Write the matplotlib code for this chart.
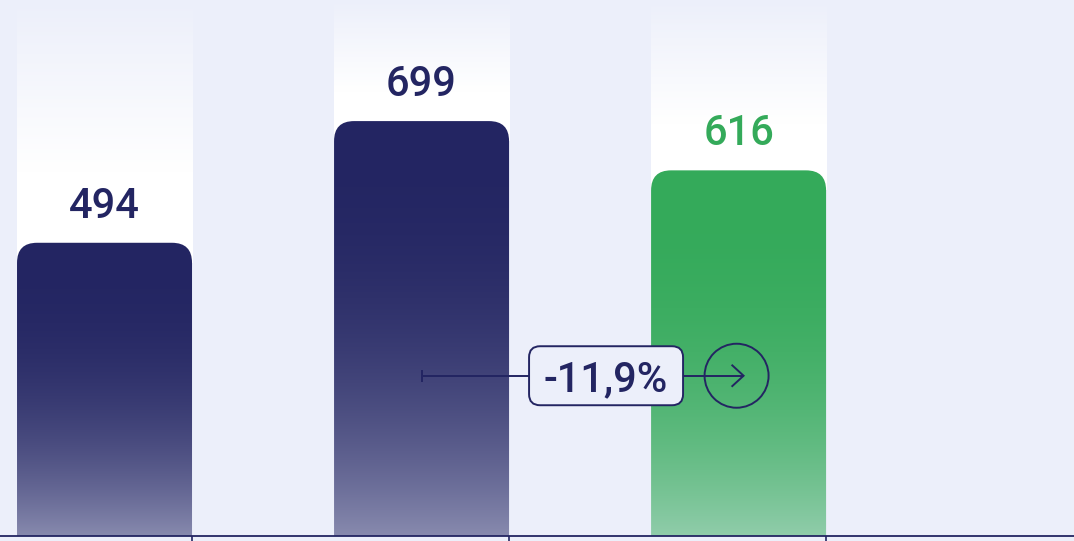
import numpy as np
import matplotlib
matplotlib.use('Agg')
import matplotlib.pyplot as plt
from matplotlib.patches import FancyBboxPatch, Circle
from matplotlib.lines import Line2D
from matplotlib.transforms import IdentityTransform
from matplotlib.colors import to_rgb

# ---- data ----
positions = [0, 1, 2]
values = [494, 699, 616]
value_labels = ['494', '699', '616']
change_label = '-11,9%'

# ---- style ----
BG = '#ECEFFA'
NAVY = '#232562'
GREEN = '#34AA5A'
bar_colors = [NAVY, NAVY, GREEN]
W = 0.552
FONT = ['Roboto', 'DejaVu Sans']
WEIGHT = 'medium'

fig = plt.figure(figsize=(10.74, 5.41), dpi=100)
fig.patch.set_facecolor(BG)
ax = fig.add_axes([0, 5 / 541, 1, 536 / 541])
ax.set_facecolor(BG)
XL = (-0.3297, 3.058)
YTOP = 903
ax.set_xlim(*XL)
ax.set_ylim(0, YTOP)
for s in ['top', 'left', 'right']:
    ax.spines[s].set_visible(False)
ax.spines['bottom'].set_color(NAVY)
ax.spines['bottom'].set_linewidth(1.3)
ax.set_yticks([])
ax.set_xticks([p + W / 2 for p in positions])
ax.set_xticklabels([])
ax.tick_params(axis='x', direction='out', length=3.8, width=1.2, color=NAVY)

bg = np.array(to_rgb(BG))
white = np.ones(3)

# rounding in data units
px_x = 1074 / (XL[1] - XL[0])
px_y = 536 / YTOP
r_px = 20
rx = r_px / px_x
ry = r_px / px_y

N = 300
for p, v, c, lab in zip(positions, values, bar_colors, value_labels):
    x0, x1 = p - W / 2, p + W / 2
    # background column: bg at top -> white
    t = np.linspace(0, 1, N)
    m = np.clip(t / 0.65, 0, 1)
    col = bg[None, :] * (1 - m[:, None]) + white[None, :] * m[:, None]
    ax.imshow(col[:, None, :], extent=(x0, x1, v - ry, YTOP), origin='upper',
              aspect='auto', interpolation='bilinear', zorder=1)
    # bar with rounded top
    patch = FancyBboxPatch((x0, -80), W, v + 80,
                           boxstyle=f"round,pad=0,rounding_size={rx}",
                           mutation_aspect=ry / rx, fc='none', ec='none', zorder=2)
    ax.add_patch(patch)
    f = np.linspace(0, 1, N)
    a = 1 - 0.5 * f ** 2.5
    cc = np.array(to_rgb(c))
    grad = cc[None, :] * a[:, None] + bg[None, :] * (1 - a[:, None])
    im = ax.imshow(grad[:, None, :], extent=(x0, x1, 0, v), origin='upper',
                   aspect='auto', interpolation='bilinear', zorder=2)
    im.set_clip_path(patch)
    ax.annotate(lab, (p, v), xytext=(0, 18), textcoords='offset points',
                ha='center', va='baseline', fontsize=30, color=c,
                fontweight=WEIGHT, family=FONT, zorder=5)

ax.set_xlim(*XL)
ax.set_ylim(0, YTOP)

# ---- change annotation ----
y_ann = 270
box_x = 1.582
fig.canvas.draw()
sx, sy = ax.transData.transform((positions[1], y_ann))
cx, _ = ax.transData.transform((positions[2], y_ann))
bx, _ = ax.transData.transform((box_x, y_ann))
cx -= 2
idt = IdentityTransform()
lw = 1.4
bw, bh = 154, 59
R = 32

def line(xs, ys):
    fig.add_artist(Line2D(xs, ys, transform=idt, color=NAVY, lw=lw,
                          solid_capstyle='butt', solid_joinstyle='miter', zorder=6))

line([sx, sx], [sy - 6, sy + 6])
line([sx, bx - bw / 2], [sy, sy])
line([bx + bw / 2, cx + 7], [sy, sy])
line([cx - 5, cx + 7, cx - 5], [sy + 11, sy, sy - 11])
fig.add_artist(FancyBboxPatch((bx - bw / 2, sy - bh / 2), bw, bh,
                              boxstyle="round,pad=0,rounding_size=11",
                              fc=BG, ec=NAVY, lw=lw, transform=idt, zorder=7))
fig.add_artist(Circle((cx, sy), R, fc='none', ec=NAVY, lw=lw, transform=idt, zorder=7))
fig.text(bx, sy, change_label, transform=idt, ha='center', va='center_baseline',
         fontsize=30, color=NAVY, fontweight=WEIGHT, family=FONT, zorder=8)

fig.savefig('out.png', dpi=100, facecolor=BG)
